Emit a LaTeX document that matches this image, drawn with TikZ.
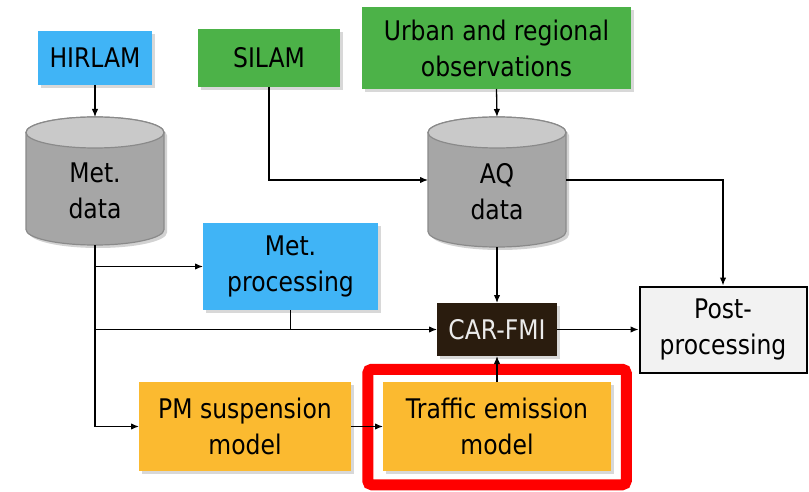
\documentclass[tikz,border=0pt]{standalone}
\usepackage{fontspec}
\setmainfont{DejaVu Sans}[FakeStretch=0.87]
\usetikzlibrary{arrows.meta,shadows,calc}

\definecolor{skyblue}{HTML}{40B4F6}
\definecolor{leafgreen}{HTML}{4CB248}
\definecolor{amber}{HTML}{FBBA30}
\definecolor{carbrown}{HTML}{2A1C0E}
\definecolor{cylbody}{HTML}{A6A6A6}
\definecolor{cyltop}{HTML}{C9C9C9}
\definecolor{cylline}{HTML}{8A8A8A}
\definecolor{paper}{HTML}{F2F2F2}

% database cylinder: #1 node name, #2 centre x, #3 top y, #4 bottom y, #5 text
\newcommand\datacyl[5]{%
  \pgfmathsetmacro\cyrx{69}%
  \pgfmathsetmacro\cyry{15.5}%
  \fill[gray,opacity=0.35] (#2-69+3,#3-15.5-3) -- (#2-69+3,#4+15.5-3)
    arc[start angle=180,end angle=360,x radius=69,y radius=15.5]
    -- (#2+69+3,#3-15.5-3)
    arc[start angle=0,end angle=180,x radius=69,y radius=15.5] -- cycle;
  \filldraw[fill=cylbody,draw=cylline,line width=1.2] (#2-69,#3-15.5) -- (#2-69,#4+15.5)
    arc[start angle=180,end angle=360,x radius=69,y radius=15.5]
    -- (#2+69,#3-15.5)
    arc[start angle=0,end angle=180,x radius=69,y radius=15.5] -- cycle;
  \filldraw[fill=cyltop,draw=cylline,line width=1.2] (#2,#3-15.5) ellipse[x radius=69,y radius=15.5];
  \node[minimum width=138,minimum height=#3-#4,inner sep=0,outer sep=0] (#1) at (#2,{(#3+#4)/2}) {};
  \node[txt] at (#2,{(#3+#4)/2-10}) {#5};
}

\begin{document}
\begin{tikzpicture}[x=1pt,y=1pt,
  txt/.style={align=center,font=\fontsize{27}{36}\selectfont,text=black},
  box/.style={txt,inner sep=0,outer sep=0,
    drop shadow={shadow xshift=3pt,shadow yshift=-3pt,opacity=0.3,fill=gray}},
  link/.style={line width=1.3,draw=black},
  flow/.style={link,-{Latex[length=8pt,width=6.5pt]}}
]
\useasboundingbox (0,0) rectangle (809,491);
\fill[white] (0,0) rectangle (809,491);

% input sources
\node[box,fill=skyblue,minimum width=114,minimum height=54] (hirlam) at (95,433) {HIRLAM};
\node[box,fill=leafgreen,minimum width=142,minimum height=58] (silam) at (269,433) {SILAM};
\node[box,fill=leafgreen,minimum width=269,minimum height=82] (obs) at (496.5,443)
  {Urban and regional\\observations};

% data stores
\datacyl{metdata}{95}{374}{246}{Met.\\data}
\datacyl{aqdata}{497}{374}{244}{AQ\\data}

% processing chain
\node[box,fill=skyblue,minimum width=175,minimum height=87] (metproc) at (290.5,224.5)
  {Met.\\processing};
\node[box,fill=carbrown,text=white!92!black,minimum width=120,minimum height=53] (car) at (497,161.5) {CAR-FMI};
\node[txt,fill=paper,draw=black,line width=2,inner sep=0,minimum width=167,minimum height=86] (post) at (723,161.5)
  {Post-\\processing};
\node[box,fill=amber,minimum width=212,minimum height=89] (pm) at (245,64.5)
  {PM suspension\\model};
\node[box,fill=amber,minimum width=228,minimum height=89] (traffic) at (497,64.5)
  {Traffic emission\\model};

% highlight frame around the emission model
\node[draw=red,line width=11,rounded corners=4,minimum width=258.5,minimum height=115.5,
  inner sep=0] (focus) at (497,64) {};

% connectors
\draw[flow] (hirlam.south) -- (metdata.north);
\draw[flow] (obs.south) -- (aqdata.north);
\draw[flow] (silam.south) |- ($(aqdata.west)+(0,2)$);
\draw[flow] ($(aqdata.east)+(0,2)$) -| (post.north);
\draw[flow] (aqdata.south) -- (car.north);
\draw[flow] (metdata.south) |- (pm.west);
\draw[flow] (metdata.south |- metproc.west) -- (metproc.west);
\draw[flow] (metdata.south |- car.west) -- (car.west);
\draw[link] (metproc.south) -- (metproc.south |- car.west);
\draw[flow] (car.east) -- (post.west);
\draw[flow] (pm.east) -- (traffic.west);
\draw[flow] (traffic.north) -- (car.south);
\end{tikzpicture}
\end{document}
